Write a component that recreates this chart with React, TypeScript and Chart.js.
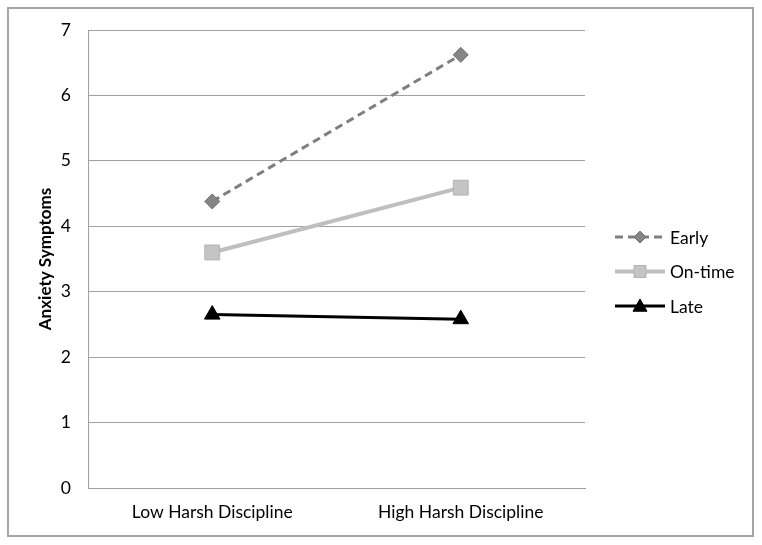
import React, { useEffect, useRef } from "react";
import { Chart, registerables } from "chart.js";

Chart.register(...registerables);

const categories = ["Low Harsh Discipline", "High Harsh Discipline"];
const seriesNames = ["Early", "On-time", "Late"];
const earlyValues = [4.38, 6.62];
const onTimeValues = [3.6, 4.59];
const lateValues = [2.65, 2.58];
const yTicks = [0, 1, 2, 3, 4, 5, 6, 7];

const FONT = "Lato, 'Open Sans', sans-serif";

function drawMarker(ctx: CanvasRenderingContext2D, style: string, x: number, y: number, r: number, fill: string, stroke: string) {
  ctx.save();
  ctx.fillStyle = fill;
  ctx.strokeStyle = stroke;
  ctx.lineWidth = 1;
  ctx.setLineDash([]);
  ctx.beginPath();
  if (style === "rectRot") {
    ctx.moveTo(x, y - r);
    ctx.lineTo(x + r, y);
    ctx.lineTo(x, y + r);
    ctx.lineTo(x - r, y);
    ctx.closePath();
  } else if (style === "rect") {
    ctx.rect(x - r, y - r, 2 * r, 2 * r);
  } else {
    ctx.moveTo(x, y - r);
    ctx.lineTo(x + r, y + r * 0.75);
    ctx.lineTo(x - r, y + r * 0.75);
    ctx.closePath();
  }
  ctx.fill();
  ctx.stroke();
  ctx.restore();
}

const framePlugin = {
  id: "frame",
  beforeDraw(chart: any) {
    const ctx = chart.ctx;
    ctx.save();
    ctx.fillStyle = "#ffffff";
    ctx.fillRect(0, 0, chart.width, chart.height);
    ctx.strokeStyle = "#a6a6a6";
    ctx.lineWidth = 2;
    ctx.strokeRect(8, 8, 745, 528);
    ctx.restore();
  },
  afterDraw(chart: any) {
    const ctx = chart.ctx;
    const legendMarkers = [
      { style: "rectRot", r: 6 },
      { style: "rect", r: 6 },
      { style: "triangle", r: 7 },
    ];
    chart.data.datasets.forEach((ds: any, i: number) => {
      const y = 237 + i * 34.5;
      ctx.save();
      ctx.strokeStyle = ds.borderColor;
      ctx.lineWidth = ds.borderWidth;
      ctx.setLineDash(ds.borderDash || []);
      ctx.beginPath();
      ctx.moveTo(615, y);
      ctx.lineTo(665, y);
      ctx.stroke();
      ctx.restore();
      const m = legendMarkers[i];
      drawMarker(ctx, m.style, 640, y, m.r, ds.pointBackgroundColor, ds.pointBorderColor);
      ctx.save();
      ctx.fillStyle = "#000";
      ctx.font = `17.5px ${FONT}`;
      ctx.textBaseline = "middle";
      ctx.textAlign = "left";
      ctx.fillText(ds.label, 670, y + 1);
      ctx.restore();
    });
  },
};

export default function App() {
  const ref = useRef<HTMLCanvasElement | null>(null);
  useEffect(() => {
    if (!ref.current) return;
    const chart = new Chart(ref.current, {
      type: "line",
      data: {
        labels: categories,
        datasets: [
          {
            label: seriesNames[0],
            data: earlyValues,
            borderColor: "#7f7f7f",
            borderWidth: 3,
            borderDash: [8, 5],
            pointStyle: "rectRot",
            pointRadius: 7.5,
            pointBackgroundColor: "#858585",
            pointBorderColor: "#6f6f6f",
            pointBorderWidth: 1,
          },
          {
            label: seriesNames[1],
            data: onTimeValues,
            borderColor: "#bfbfbf",
            borderWidth: 4,
            pointStyle: "rect",
            pointRadius: 10.5,
            pointBackgroundColor: "#c4c4c4",
            pointBorderColor: "#b3b3b3",
            pointBorderWidth: 1,
          },
          {
            label: seriesNames[2],
            data: lateValues,
            borderColor: "#000000",
            borderWidth: 3,
            pointStyle: "triangle",
            pointRadius: 9,
            pointBackgroundColor: "#000000",
            pointBorderColor: "#000000",
            pointBorderWidth: 1,
          },
        ],
      },
      options: {
        responsive: false,
        animation: false,
        layout: { padding: { left: 0, top: 30, right: 177, bottom: 0 } },
        plugins: {
          legend: { display: false },
          tooltip: { enabled: false },
        },
        scales: {
          x: {
            offset: true,
            grid: { display: false, drawTicks: false },
            border: { display: true, color: "#a0a0a0", width: 1 },
            ticks: { color: "#000", font: { family: FONT, size: 17.5 }, padding: 14, maxRotation: 0 },
            afterFit: (s: any) => {
              s.height = 57;
            },
          },
          y: {
            min: 0,
            max: 7,
            afterBuildTicks: (s: any) => {
              s.ticks = yTicks.map((v) => ({ value: v }));
            },
            grid: { color: "#a0a0a0", lineWidth: 1, drawTicks: false },
            border: { display: true, color: "#a0a0a0", width: 1 },
            ticks: { color: "#000", font: { family: FONT, size: 17.5 }, padding: 17 },
            title: {
              display: true,
              text: "Anxiety Symptoms",
              color: "#000",
              font: { family: FONT, size: 17, weight: "bold" },
              padding: { top: 35, bottom: 0 },
            },
            afterFit: (s: any) => {
              s.width = 88;
            },
          },
        },
      },
      plugins: [framePlugin],
    });
    return () => chart.destroy();
  }, []);
  return (
    <canvas
      ref={ref}
      width={762}
      height={545}
      style={{ position: "absolute", left: 0, top: 0, width: 762, height: 545 }}
    />
  );
}
